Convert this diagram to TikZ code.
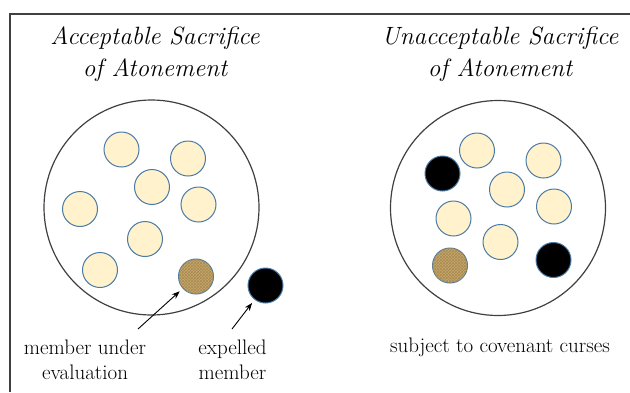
\documentclass[tikz,border=0pt]{standalone}
\usepackage{fontspec}
\usetikzlibrary{arrows.meta,patterns}
\definecolor{cream}{HTML}{FFF2CC}
\definecolor{rim}{HTML}{4A7BA6}
\definecolor{burlap}{HTML}{C8A86C}
\definecolor{burlapdark}{HTML}{A88A52}
\definecolor{framegray}{HTML}{404040}
\begin{document}
\begin{tikzpicture}[x=1pt,y=-1pt,
  member/.style={circle,draw=rim,line width=1pt,fill=cream,minimum size=35pt,inner sep=0pt},
  evalmember/.style={circle,draw=rim,line width=1pt,fill=burlap,minimum size=35pt,inner sep=0pt,
    postaction={pattern=crosshatch,pattern color=burlapdark}},
  cursed/.style={circle,draw=rim,line width=1pt,fill=black,minimum size=35pt,inner sep=0pt},
  community/.style={circle,draw=framegray,line width=1.2pt,minimum size=215pt,inner sep=0pt},
  titletext/.style={font=\fontsize{25}{32}\selectfont\itshape,align=center,inner sep=0pt},
  labeltext/.style={font=\fontsize{21}{25}\selectfont,align=center,inner sep=0pt},
  pointer/.style={-{Stealth[length=8pt,width=6pt]},line width=0.9pt,shorten >=4pt}]
\useasboundingbox (0,0) rectangle (630,392);
\fill[white] (0,0) rectangle (630,392);
\draw[framegray,line width=1.5pt] (10,392) -- (10,14) -- (630,14);
% titles
\node[titletext] (t1) at (155,54) {Acceptable Sacrifice\\of Atonement};
\node[titletext] (t2) at (500,54) {Unacceptable Sacrifice\\of Atonement};
% left community
\node[community] (C1) at (151.5,207.5) {};
\node[member] (a1) at (121.5,149.5) {};
\node[member] (a2) at (188,158.5) {};
\node[member] (a3) at (152,187) {};
\node[member] (a4) at (198.5,204.5) {};
\node[member] (a5) at (80,209) {};
\node[member] (a6) at (145,239) {};
\node[member] (a7) at (100,270) {};
\node[evalmember] (ae) at (196,276.5) {};
\node[cursed] (ax) at (265.5,285.5) {};
% right community
\node[community] (C2) at (498,208) {};
\node[cursed] (b0) at (442.5,173.5) {};
\node[member] (b1) at (477,150.5) {};
\node[member] (b2) at (543.5,160.5) {};
\node[member] (b3) at (507,189.5) {};
\node[member] (b4) at (554,206.5) {};
\node[member] (b5) at (453.5,218.5) {};
\node[member] (b6) at (500.5,242) {};
\node[evalmember] (be) at (450,265.5) {};
\node[cursed] (bx) at (553.5,260) {};
% labels
\node[labeltext] (l1) at (85,359.5) {member under\\evaluation};
\node[labeltext] (l2) at (232.5,359.5) {expelled\\member};
\node[labeltext] (l3) at (500,347) {subject to covenant curses};
% pointers
\coordinate (p1) at (138,329);
\coordinate (p2) at (232,329);
\draw[pointer] (p1) -- (ae);
\draw[pointer] (p2) -- (ax);
\end{tikzpicture}
\end{document}
